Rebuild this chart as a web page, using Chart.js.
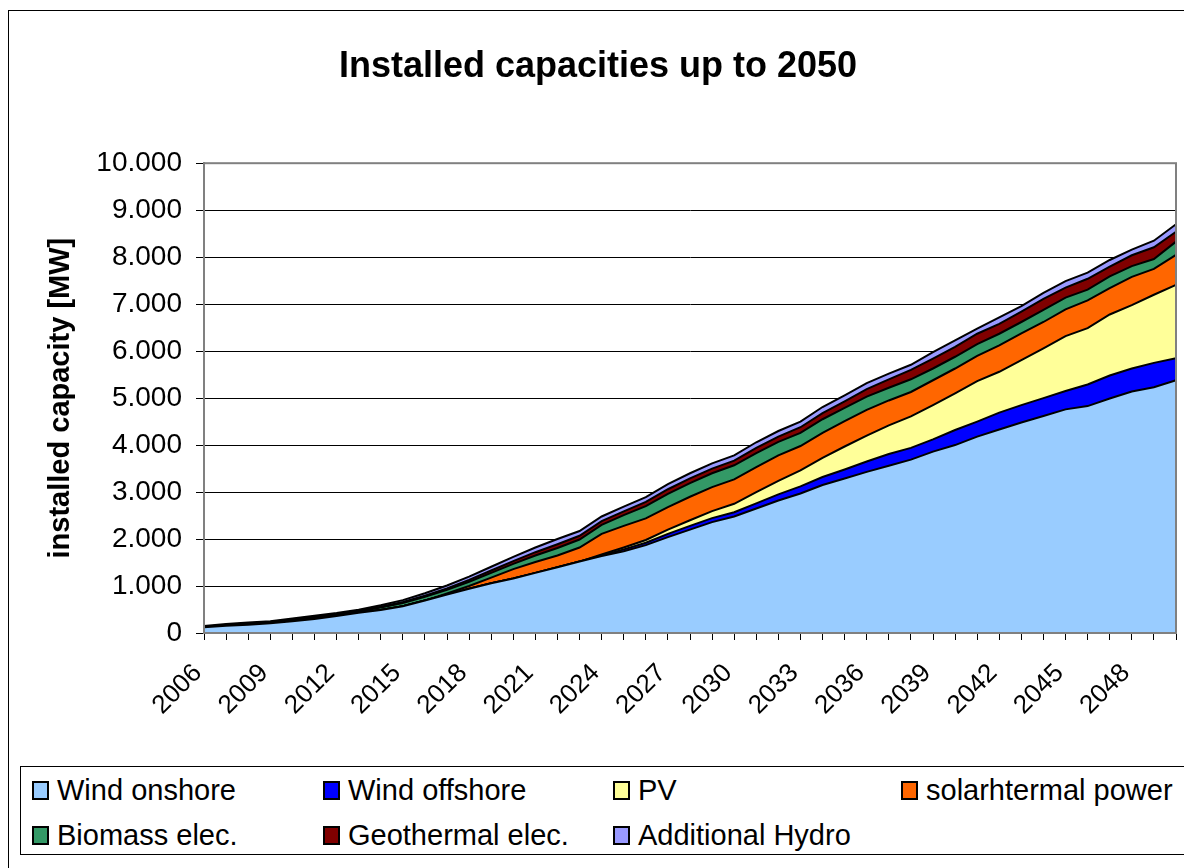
<!DOCTYPE html>
<html><head><meta charset="utf-8">
<script src="https://cdn.jsdelivr.net/npm/chart.js@4.4.1/dist/chart.umd.min.js"></script>
<style>
html,body{margin:0;padding:0;background:#fff;width:1184px;height:868px;overflow:hidden;font-family:"Liberation Sans",Arial,sans-serif;}
#frame{position:absolute;left:8px;top:10px;width:1200px;height:900px;border:1px solid #000;box-sizing:border-box;}
#wrap{position:absolute;left:0;top:0;width:1184px;height:760px;}
#legend{position:absolute;left:20px;top:766px;width:1200px;height:89px;border:1px solid #000;box-sizing:border-box;}
.item{position:absolute;height:36px;display:flex;align-items:center;font-size:29px;color:#000;white-space:nowrap;}
.sw{width:13px;height:15px;border:2px solid #000;margin-right:8px;}
</style></head><body>
<div id="frame"></div>
<div id="wrap"><canvas id="c" width="1184" height="760"></canvas></div>
<div id="legend"></div>
<script>
const FONT = '"Liberation Sans", Arial, sans-serif';
const years = ['2006','2007','2008','2009','2010','2011','2012','2013','2014','2015','2016','2017','2018','2019','2020','2021','2022','2023','2024','2025','2026','2027','2028','2029','2030','2031','2032','2033','2034','2035','2036','2037','2038','2039','2040','2041','2042','2043','2044','2045','2046','2047','2048','2049','2050'];
const windOnshore = [120,155,175,205,250,300,360,430,490,570,690,820,940,1060,1160,1280,1400,1520,1640,1740,1870,2040,2200,2360,2480,2650,2820,2970,3150,3290,3430,3560,3690,3860,4000,4180,4330,4480,4620,4760,4830,4990,5140,5230,5380];
const windOffshore = [0,0,0,0,0,0,0,0,0,0,0,0,0,0,0,0,0,0,10,40,50,70,80,85,90,110,130,150,170,190,220,250,250,260,320,320,360,370,380,390,460,490,490,520,470];
const pv = [0,0,0,0,0,0,0,0,0,0,0,0,0,0,0,0,0,0,20,40,60,90,120,150,180,240,290,340,410,490,550,610,670,730,780,860,870,960,1060,1170,1200,1300,1350,1450,1560];
const solarthermal = [0,0,0,0,0,0,0,0,0,0,0,20,60,120,200,230,250,300,440,460,460,480,500,510,520,530,540,520,530,540,550,530,520,530,530,540,560,570,560,570,590,560,600,550,640];
const biomass = [10,15,20,20,30,30,30,30,50,70,80,80,90,100,110,140,160,170,190,230,260,280,290,295,300,300,290,280,290,280,280,270,270,250,250,250,250,240,260,250,230,250,230,210,280];
const geothermal = [5,5,10,10,10,15,15,15,20,20,25,30,40,50,60,70,80,80,80,80,90,100,100,100,100,110,110,120,130,140,160,180,200,210,210,220,210,220,230,210,230,210,230,250,210];
const hydro = [15,15,20,15,20,25,20,20,30,40,50,60,70,80,90,100,110,100,100,100,100,110,110,110,110,120,120,120,130,130,130,120,110,140,140,110,140,120,130,140,130,140,120,140,160];
const seriesNames = ['Wind onshore','Wind offshore','PV','solarhtermal power','Biomass elec.','Geothermal elec.','Additional Hydro'];
const seriesColors = ['#99CCFF','#0000FF','#FFFF99','#FF6600','#339966','#800000','#9999FF'];
const seriesData = [windOnshore, windOffshore, pv, solarthermal, biomass, geothermal, hydro];

const fmt = v => String(v).replace(/\B(?=(\d{3})+(?!\d))/g, '.');

const framePlugin = {
  id: 'frame',
  afterDatasetsDraw(chart) {
    const a = chart.chartArea, c = chart.ctx;
    c.save();
    c.strokeStyle = '#808080';
    c.lineWidth = 2;
    c.strokeRect(a.left, a.top, a.right - a.left, a.bottom - a.top);
    c.restore();
  }
};

new Chart(document.getElementById('c'), {
  type: 'line',
  data: {
    labels: years,
    datasets: seriesData.map((d, i) => ({
      label: seriesNames[i], data: d, backgroundColor: seriesColors[i],
      borderColor: '#000', borderWidth: 2, fill: i === 0 ? 'origin' : '-1',
      pointRadius: 0, tension: 0
    }))
  },
  options: {
    responsive: false, animation: false,
    layout: { padding: { left: 20, right: 8, top: 0, bottom: 0 } },
    plugins: {
      legend: { display: false }, tooltip: { enabled: false },
      title: { display: true, text: 'Installed capacities up to 2050', color: '#000',
        font: { family: FONT, size: 36, weight: 'bold' }, padding: { top: 45, bottom: 75 } }
    },
    scales: {
      x: {
        type: 'category', offset: false,
        grid: { drawOnChartArea: false, drawTicks: true, tickLength: 7, color: '#000' },
        border: { color: '#808080', width: 2 },
        ticks: { autoSkip: false, maxRotation: 45, minRotation: 45, color: '#000',
          font: { family: FONT, size: 26 }, padding: 18, labelOffset: -6,
          callback: (v, i) => (i % 3 === 0 ? years[i] : '') },
        afterFit: s => { s.height = 127; s.paddingLeft = 0; s.paddingRight = 0; }
      },
      y: {
        stacked: true, min: 0, max: 10000,
        ticks: { stepSize: 1000, color: '#000', font: { family: FONT, size: 28 }, padding: 14, callback: v => fmt(v) },
        grid: { color: '#000', lineWidth: 1, tickLength: 8 },
        border: { color: '#808080', width: 2 },
        title: { display: true, text: 'installed capacity [MW]', color: '#000',
          font: { family: FONT, size: 29, weight: 'bold' }, padding: { top: 24, bottom: 0 } },
        afterFit: s => { s.width = 184; }
      }
    }
  },
  plugins: [framePlugin]
});

const leg = document.getElementById('legend');
const colX = [11, 302, 592, 880];
const rowY = [5, 50];
seriesNames.forEach((n, i) => {
  const it = document.createElement('div');
  it.className = 'item';
  it.style.left = colX[i % 4] + 'px';
  it.style.top = rowY[Math.floor(i / 4)] + 'px';
  const sw = document.createElement('span');
  sw.className = 'sw';
  sw.style.background = seriesColors[i];
  const tx = document.createElement('span');
  tx.textContent = n;
  it.appendChild(sw); it.appendChild(tx);
  leg.appendChild(it);
});
</script>
</body></html>
